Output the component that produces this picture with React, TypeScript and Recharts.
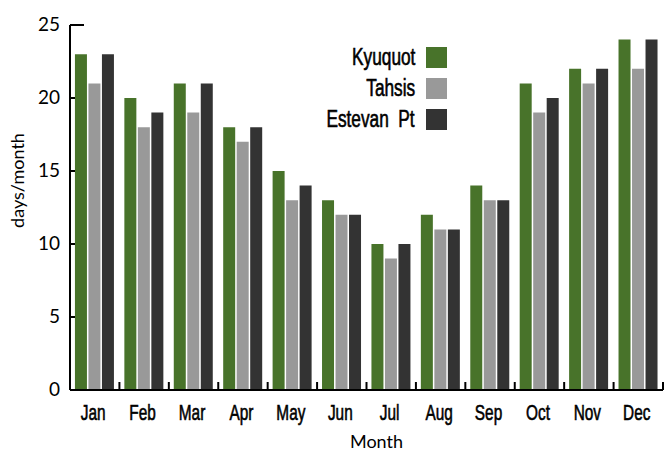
import React from 'react';
import { BarChart, Bar, XAxis, YAxis, Legend } from 'recharts';

const months = ['Jan', 'Feb', 'Mar', 'Apr', 'May', 'Jun', 'Jul', 'Aug', 'Sep', 'Oct', 'Nov', 'Dec'];
const kyuquot = [23, 20, 21, 18, 15, 13, 10, 12, 14, 21, 22, 24];
const tahsis = [21, 18, 19, 17, 13, 12, 9, 11, 13, 19, 21, 22];
const estevanPt = [23, 19, 21, 18, 14, 12, 10, 11, 13, 20, 22, 24];
const seriesNames = ['Kyuquot', 'Tahsis', 'Estevan  Pt'];
const seriesColors = ['#48732a', '#999999', '#333333'];
const yTicks = [0, 5, 10, 15, 20, 25];

const data = months.map((m, i) => ({
  month: m,
  [seriesNames[0]]: kyuquot[i],
  [seriesNames[1]]: tahsis[i],
  [seriesNames[2]]: estevanPt[i],
}));

const NARROW = "'Liberation Sans', Arial, sans-serif";
const HUMAN = "Lato, 'Open Sans', sans-serif";

const XTick = (props: any) => {
  const { x, y, payload } = props;
  const off = payload.offset || 0;
  const left = x - off;
  const isLast = payload.index === months.length - 1;
  return (
    <g>
      <line x1={left} x2={left} y1={y} y2={y - 8} stroke="#000" strokeWidth={2} />
      {isLast && <line x1={x + off} x2={x + off} y1={y} y2={y - 8} stroke="#000" strokeWidth={2} />}
      <text
        transform={`translate(${x - 1.5}, ${y + 30}) scale(0.7, 1)`}
        textAnchor="middle"
        fontFamily={NARROW}
        fontSize={22}
        fill="#000"
        stroke="#000"
        strokeWidth={0.6}
      >
        {payload.value}
      </text>
    </g>
  );
};

const YTick = (props: any) => {
  const { x, y, payload } = props;
  const len = payload.value === 25 ? 14 : 5;
  return (
    <g>
      <line x1={x} x2={x + len} y1={y} y2={y} stroke="#000" strokeWidth={2} />
      <text x={x - 10} y={y + 5.5} textAnchor="end" fontFamily={HUMAN} fontSize={19} fill="#000">
        {payload.value}
      </text>
    </g>
  );
};

const YLabel = (props: any) => {
  const vb = props.viewBox;
  const cx = vb.x + 23.5;
  const cy = vb.y + vb.height / 2 - 27;
  return (
    <text
      x={cx}
      y={cy}
      textAnchor="middle"
      transform={`rotate(-90, ${cx}, ${cy})`}
      fontFamily={HUMAN}
      fontSize={18}
      fill="#000"
    >
      days/month
    </text>
  );
};

const LegendContent = () => (
  <div style={{ width: 150 }}>
    {seriesNames.map((name, i) => (
      <div
        key={name}
        style={{ display: 'flex', alignItems: 'center', justifyContent: 'flex-end', height: 31 }}
      >
        <span
          style={{
            display: 'inline-block',
            fontFamily: NARROW,
            fontSize: 23,
            lineHeight: '23px',
            color: '#000',
            marginRight: 11,
            whiteSpace: 'pre',
            transform: 'scaleX(0.75)',
            transformOrigin: 'right center',
            WebkitTextStroke: '0.6px #000',
          }}
        >
          {name}
        </span>
        <div style={{ width: 21, height: 21, background: seriesColors[i] }} />
      </div>
    ))}
  </div>
);

export default function App() {
  return (
    <div style={{ position: 'absolute', left: 0, top: 0, width: 669, height: 451, background: '#fff' }}>
      <BarChart
        width={669}
        height={451}
        data={data}
        margin={{ top: 25, right: 6, bottom: 0, left: 0 }}
        barCategoryGap="10%"
        barGap={1.5}
      >
        <XAxis
          dataKey="month"
          height={61}
          tickLine={false}
          tickSize={0}
          tickMargin={0}
          interval={0}
          axisLine={{ stroke: '#000', strokeWidth: 2 }}
          tick={XTick}
          label={{
            value: 'Month',
            position: 'insideBottom',
            offset: 3,
            dx: 10,
            style: { fontFamily: HUMAN, fontSize: 18, fill: '#000' },
          }}
        />
        <YAxis
          width={70}
          domain={[0, 25]}
          ticks={yTicks}
          interval={0}
          tickLine={false}
          tickSize={0}
          tickMargin={0}
          axisLine={{ stroke: '#000', strokeWidth: 2 }}
          tick={YTick}
          label={<YLabel />}
        />
        <Legend
          layout="vertical"
          align="center"
          verticalAlign="middle"
          content={<LegendContent />}
          wrapperStyle={{ position: 'absolute', left: 297, top: 42, width: 150, height: 93 }}
        />
        <Bar dataKey={seriesNames[0]} fill={seriesColors[0]} isAnimationActive={false} />
        <Bar dataKey={seriesNames[1]} fill={seriesColors[1]} isAnimationActive={false} />
        <Bar dataKey={seriesNames[2]} fill={seriesColors[2]} isAnimationActive={false} />
      </BarChart>
    </div>
  );
}
